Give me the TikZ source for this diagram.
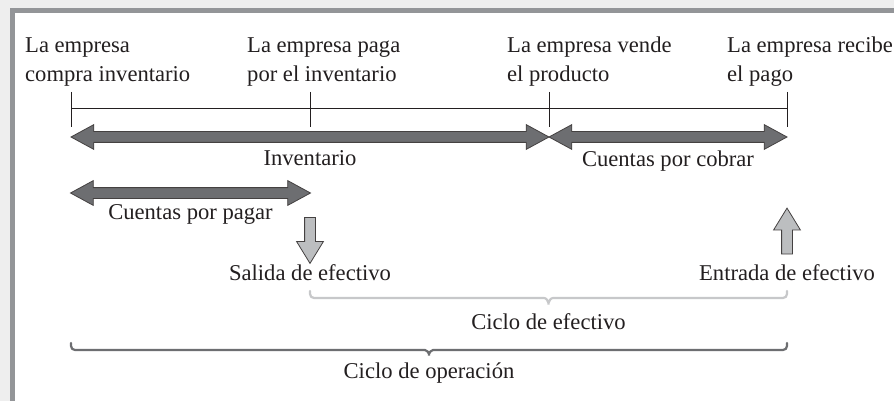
\documentclass[tikz,border=0pt]{standalone}
\usepackage{fontspec}
\setmainfont{Liberation Serif}
\usetikzlibrary{shapes.arrows,positioning,calc}
\definecolor{framegray}{RGB}{147,149,152}
\definecolor{outergray}{RGB}{238,238,238}
\definecolor{bararrow}{RGB}{109,110,113}
\definecolor{cashfill}{RGB}{188,190,192}
\definecolor{inkdark}{RGB}{35,31,32}
\definecolor{bracelight}{RGB}{199,200,202}
\tikzset{
  lbl/.style={font=\fontsize{22.6}{29}\selectfont,inner sep=0pt,text=inkdark},
  toplbl/.style={lbl,align=left,anchor=base west},
  midlbl/.style={lbl,anchor=base},
  tickline/.style={draw=inkdark,line width=0.9pt},
  spanarrow/.style={double arrow,draw=inkdark!85,fill=bararrow,line width=0.8pt,
    minimum width=24pt,double arrow head extend=7pt,double arrow tip angle=57,inner sep=5pt},
  casharrow/.style={single arrow,draw=inkdark!85,fill=cashfill,line width=0.8pt,
    minimum width=26pt,minimum height=46pt,single arrow head extend=8pt,single arrow tip angle=63,inner sep=5pt},
  cyclebrace/.style={line width=2.2pt,line cap=round,rounded corners=4pt}
}

\begin{document}
\begin{tikzpicture}[x=1pt,y=-1pt]

  %% FRAME
  \useasboundingbox (0,0) rectangle (894,401);
  \clip (0,0) rectangle (894,401);
  \fill[outergray] (0,0) rectangle (894,401);
  \draw[framegray,line width=5pt,fill=white] (12.5,10.5) rectangle (910,420);

  %% TIMELINE
  \coordinate (buy) at (71,108);
  \coordinate (pay) at (310,108);
  \coordinate (sell) at (549,108);
  \coordinate (collect) at (787,108);
  \draw[tickline] (buy) -- (collect);
  \foreach \t in {buy,pay,sell,collect}
    \draw[tickline] ($(\t)+(0,-16)$) -- ($(\t)+(0,19)$);

  \node[toplbl] (lbuy) at (25,82) {La empresa\\compra inventario};
  \node[toplbl] (lpay) at (247,82) {La empresa paga\\por el inventario};
  \node[toplbl] (lsell) at (507,82) {La empresa vende\\el producto};
  \node[toplbl] (lcollect) at (727,82) {La empresa recibe\\el pago};

  %% ACCOUNTS
  \node[spanarrow,minimum height=478pt] (inv) at ($(buy)!0.5!(sell)+(0,29)$) {};
  \node[spanarrow,minimum height=238pt] (recv) at ($(sell)!0.5!(collect)+(0,29)$) {};
  \node[spanarrow,minimum height=240pt] (paybl) at ($(buy)!0.5!(pay)+(0,85)$) {};
  \node[midlbl] (linv) at ($(buy)!0.5!(sell)+(0,57)$) {Inventario};
  \node[midlbl] (lrecv) at ($(sell)!0.5!(collect)+(0,58)$) {Cuentas por cobrar};
  \node[midlbl] (lpaybl) at ($(buy)!0.5!(pay)+(0,111)$) {Cuentas por pagar};

  %% CASH FLOWS
  \node[casharrow,shape border rotate=270] (cashout) at ($(pay)+(0,128)$) {};
  \node[casharrow,shape border rotate=90] (cashin) at ($(collect)+(0,127.5)$) {};
  \node[midlbl] (lcashout) at ($(pay)+(0,172)$) {Salida de efectivo};
  \node[midlbl] (lcashin) at ($(collect)+(0,172)$) {Entrada de efectivo};

  %% CYCLES
  \draw[cyclebrace,draw=bracelight] (310,291) |- (540,298)
    .. controls (546,298) and (548.5,301) .. (548.5,307)
    .. controls (548.5,301) and (551,298) .. (557,298) -| (787,291);
  \node[midlbl] (lcash) at (548.5,329) {Ciclo de efectivo};
  \draw[cyclebrace,draw=bararrow] (71,343) |- (421,350)
    .. controls (427,350) and (429,353) .. (429,358)
    .. controls (429,353) and (431,350) .. (437,350) -| (787,343);
  \node[midlbl] (lop) at (429,378) {Ciclo de operación};
\end{tikzpicture}
\end{document}
